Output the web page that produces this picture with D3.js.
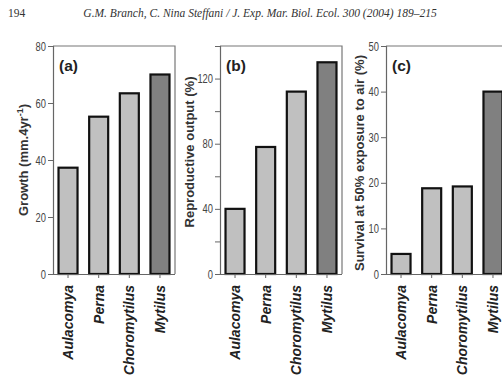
<!DOCTYPE html>
<html><head><meta charset="utf-8">
<script src="https://cdn.jsdelivr.net/npm/d3@7/dist/d3.min.js"></script>
<style>
body{margin:0;background:#fff;}
svg{display:block;}
</style></head>
<body>
<svg id="chart" width="502" height="379"></svg>
<script>
// ---- data ----
const categories = ["Aulacomya", "Perna", "Choromytilus", "Mytilus"];
const growth = [37.3, 55.2, 63.4, 70];
const reproductive = [40, 78, 112, 130];
const survival = [4.4, 18.8, 19.2, 40];
const growthTicks = [0, 20, 40, 60, 80];
const reproTicks = [0, 40, 80, 120];
const reproMinorTicks = [20, 60, 100, 140];
const survivalTicks = [0, 10, 20, 30, 40, 50];
const panelLabels = ["(a)", "(b)", "(c)"];
const headerPage = "194";
const headerText = "G.M. Branch, C. Nina Steffani / J. Exp. Mar. Biol. Ecol. 300 (2004) 189\u2013215";

// ---- layout ----
const svg = d3.select("#chart");
const plotTop = 46, plotBottom = 274, pw = 122;
const tickFont = "'Liberation Sans',Arial,sans-serif";
const sans = "'Liberation Sans',Arial,sans-serif";

svg.append("text").attr("x", 8).attr("y", 17)
  .attr("font-family", "'Liberation Serif','Times New Roman',serif")
  .attr("font-size", 11.5).attr("fill", "#333").text(headerPage);
svg.append("text").attr("x", 260).attr("y", 17).attr("text-anchor", "middle")
  .attr("font-family", "'Liberation Serif','Times New Roman',serif")
  .attr("font-style", "italic").attr("font-size", 11.5).attr("fill", "#333").text(headerText);

const panels = [
  {left: 53, values: growth, max: 80, ticks: growthTicks, minor: [], titleX: 23, titleY: 160, title: "growth"},
  {left: 220, values: reproductive, max: 140, ticks: reproTicks, minor: reproMinorTicks, titleX: 189, titleY: 152, title: "Reproductive output (%)"},
  {left: 386, values: survival, max: 50, ticks: survivalTicks, minor: [], titleX: 359, titleY: 163, title: "Survival at 50% exposure to air (%)"}
];

panels.forEach((p, i) => {
  const x = d3.scaleBand().domain(categories).range([p.left, p.left + pw])
    .paddingInner(0.38).paddingOuter(0.18);
  const y = d3.scaleLinear().domain([0, p.max]).range([plotBottom, plotTop]);
  const g = svg.append("g");

  // box (top and right)
  g.append("path")
    .attr("d", `M${p.left},${plotTop}H${p.left + pw}V${plotBottom}`)
    .attr("fill", "none").attr("stroke", "#777").attr("stroke-width", 1.2);

  // bars
  g.selectAll("rect.bar").data(p.values).join("rect")
    .attr("class", "bar")
    .attr("x", (d, j) => x(categories[j]))
    .attr("y", d => y(d))
    .attr("width", x.bandwidth())
    .attr("height", d => y(0) - y(d))
    .attr("fill", (d, j) => j === 3 ? "#808080" : "#c0c0c0")
    .attr("stroke", "#111").attr("stroke-width", 2.2);

  // y axis
  const ya = g.append("g").attr("transform", `translate(${p.left},0)`)
    .call(d3.axisLeft(y).tickValues(p.ticks).tickSize(5).tickPadding(2).tickFormat(d3.format("d")));
  if (p.minor.length) {
    g.append("g").attr("transform", `translate(${p.left},0)`)
      .call(d3.axisLeft(y).tickValues(p.minor).tickSize(5).tickFormat(""))
      .call(s => s.select(".domain").remove());
  }
  // x axis
  const xa = g.append("g").attr("transform", `translate(0,${plotBottom})`)
    .call(d3.axisBottom(x).tickSize(4).tickFormat(""));
  xa.select(".domain").attr("d", `M${p.left},0.5H${p.left + pw}`);

  g.selectAll(".domain").attr("stroke", "#666").attr("stroke-width", 1.2);
  g.selectAll(".tick line").attr("stroke", "#666");
  ya.selectAll(".tick text")
    .attr("font-family", tickFont).attr("font-size", 12.5).attr("fill", "#444")
    .attr("textLength", d => String(d).length * 5.2)
    .attr("lengthAdjust", "spacingAndGlyphs");

  // category labels
  categories.forEach(c => {
    g.append("text")
      .attr("transform", `translate(${x(c) + x.bandwidth() / 2 + 5},285) rotate(-90)`)
      .attr("text-anchor", "end")
      .attr("font-family", sans).attr("font-weight", "bold").attr("font-style", "italic")
      .attr("font-size", 14).attr("fill", "#222").text(c);
  });

  // panel label
  g.append("text").attr("x", p.left + 6).attr("y", 71)
    .attr("font-family", sans).attr("font-weight", "bold").attr("font-size", 15.5)
    .attr("fill", "#222").text(panelLabels[i]);

  // y title
  const t = g.append("text")
    .attr("transform", `translate(${p.titleX + 5},${p.titleY}) rotate(-90)`)
    .attr("text-anchor", "middle")
    .attr("font-family", sans).attr("font-weight", "bold")
    .attr("font-size", 13).attr("fill", "#333");
  if (p.title === "growth") {
    t.append("tspan").text("Growth (mm.4yr");
    t.append("tspan").attr("baseline-shift", "super").attr("font-size", 9).text("-1");
    t.append("tspan").text(")");
  } else {
    t.text(p.title);
  }
});
</script>
</body></html>
